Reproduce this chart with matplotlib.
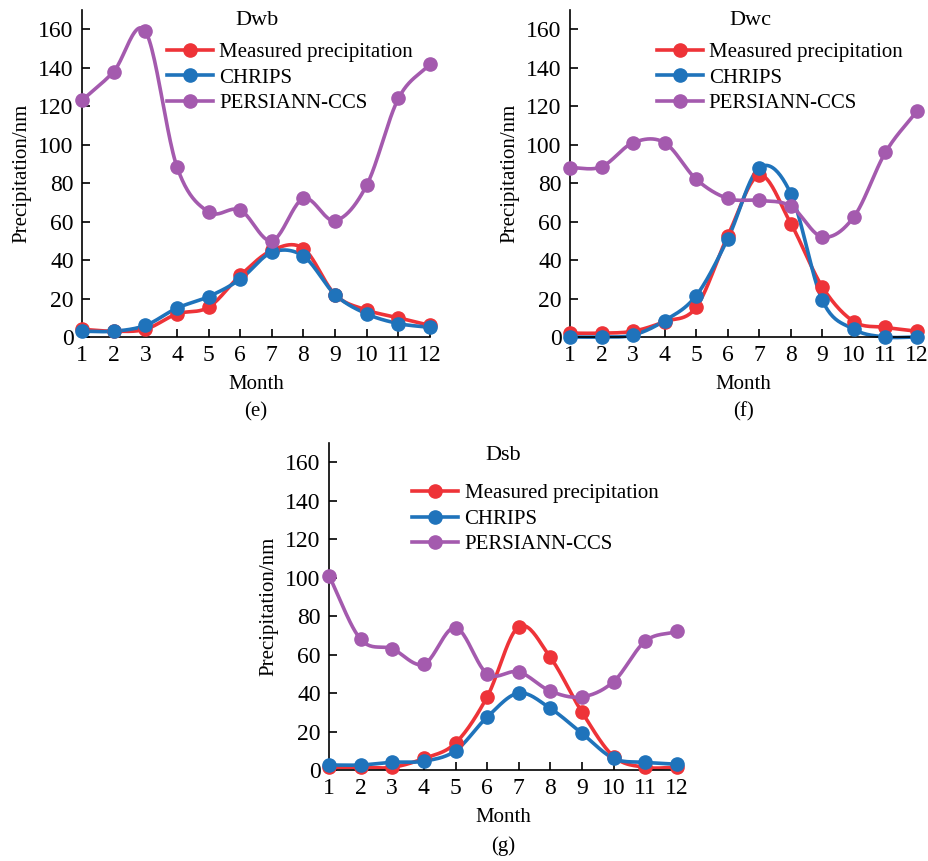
import numpy as np
import matplotlib
matplotlib.use('Agg')
from matplotlib import pyplot as plt

plt.rcParams['font.family'] = ['Liberation Serif', 'DejaVu Serif']
plt.rcParams['font.size'] = 15

months = list(range(1, 13))
series_names = ['Measured precipitation', 'CHRIPS', 'PERSIANN-CCS']
colors = ['#ee3338', '#1f73bb', '#a45aae']

# Dwb
dwb_measured = [4, 3, 4, 12, 15.5, 32, 45, 46, 22, 14, 10, 6]
dwb_chrips = [3, 3, 6, 15, 21, 30, 44, 42, 22, 12, 7, 5]
dwb_persiann = [123, 138, 159, 88.5, 65, 66, 50, 72, 60.5, 79, 124, 142]
# Dwc
dwc_measured = [2, 2, 3, 8, 15.5, 52.5, 84, 59, 26, 8, 5, 3]
dwc_chrips = [0, 0, 1, 8.5, 21.5, 51, 88, 74.5, 19, 4, 0, 0]
dwc_persiann = [88, 88.5, 101, 101, 82, 72, 71, 68, 52, 62.5, 96, 117.5]
# Dsb
dsb_measured = [1.4, 1.4, 1.4, 6, 14, 38, 74.5, 58.5, 30, 7, 1.4, 1.4]
dsb_chrips = [2.6, 2.6, 4, 4.6, 10, 27.5, 40, 32, 19, 6, 4, 3]
dsb_persiann = [101, 68, 63, 55, 74, 50, 51, 41, 38, 46, 67, 72]

panels = [
    ('Dwb', '(e)', [dwb_measured, dwb_chrips, dwb_persiann]),
    ('Dwc', '(f)', [dwc_measured, dwc_chrips, dwc_persiann]),
    ('Dsb', '(g)', [dsb_measured, dsb_chrips, dsb_persiann]),
]

# axes rectangles in figure fraction
rects = [[0.0883, 0.6086, 0.3746, 0.3798],
         [0.6136, 0.6086, 0.3735, 0.3798],
         [0.3541, 0.1057, 0.3746, 0.3798]]
title_pos = [(0.503, 0.969), (0.52, 0.969), (0.50, 0.962)]
legend_pos = [(0.245, 0.90), (0.25, 0.90), (0.24, 0.875)]
tag_y = [-0.228, -0.228, -0.232]


def smooth(x, y, n=24):
    # Catmull-Rom spline through the points, only for drawing the line
    x = np.asarray(x, float)
    y = np.asarray(y, float)
    px = np.concatenate([[2 * x[0] - x[1]], x, [2 * x[-1] - x[-2]]])
    py = np.concatenate([[2 * y[0] - y[1]], y, [2 * y[-1] - y[-2]]])
    xs, ys = [], []
    t = np.linspace(0, 1, n, endpoint=False)
    for i in range(1, len(px) - 2):
        for p, out in ((px, xs), (py, ys)):
            p0, p1, p2, p3 = p[i - 1], p[i], p[i + 1], p[i + 2]
            out.append(0.5 * (2 * p1 + (-p0 + p2) * t
                              + (2 * p0 - 5 * p1 + 4 * p2 - p3) * t ** 2
                              + (-p0 + 3 * p1 - 3 * p2 + p3) * t ** 3))
    xs.append([x[-1]])
    ys.append([y[-1]])
    return np.concatenate(xs), np.concatenate(ys)


fig = plt.figure(figsize=(9.29, 8.61), dpi=100)

for k, (name, tag, data) in enumerate(panels):
    ax = fig.add_axes(rects[k])
    for vals, lab, c in zip(data, series_names, colors):
        sx, sy = smooth(months, vals)
        ax.plot(sx, sy, color=c, lw=2.6, clip_on=False, zorder=2)
        ax.plot(months, vals, 'o', color=c, ms=9.5, clip_on=False, zorder=3)
        ax.plot([], [], '-o', color=c, lw=2.6, ms=9.5, label=lab)
    ax.set_xlim(1, 12)
    ax.set_ylim(0, 170)
    ax.set_xticks(months)
    ax.set_yticks(range(0, 161, 20))
    for s in ['top', 'right']:
        ax.spines[s].set_visible(False)
    for s in ['left', 'bottom']:
        ax.spines[s].set_linewidth(1.2)
    ax.tick_params(direction='in', length=6, width=1.2, pad=6, labelsize=17)
    ax.set_xlabel('Month', labelpad=6)
    ax.set_ylabel('Precipitation/nm', labelpad=5)
    ax.text(title_pos[k][0], title_pos[k][1], name, transform=ax.transAxes,
            ha='center', va='center', fontsize=16)
    ax.text(0.5, tag_y[k], tag, transform=ax.transAxes, ha='center', va='center')
    ax.legend(loc='upper left', bbox_to_anchor=legend_pos[k], frameon=False,
              handlelength=2.2, handletextpad=0.3, labelspacing=0.28,
              borderpad=0, borderaxespad=0)

fig.savefig('out.png', dpi=100)
